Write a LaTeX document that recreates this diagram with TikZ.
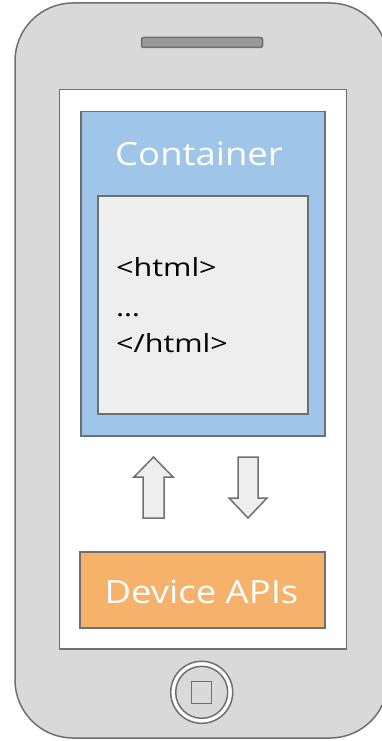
\documentclass[tikz,border=0pt]{standalone}
\usepackage{fontspec}
\setmainfont{Open Sans}
\newfontfamily\titlefont[FakeStretch=1.14]{Open Sans}
\newfontfamily\codefont[FakeStretch=1.22]{Open Sans}
\definecolor{phonefill}{HTML}{D9D9D9}
\definecolor{edge}{HTML}{6F6F6F}
\definecolor{speaker}{HTML}{999999}
\definecolor{contblue}{HTML}{9FC5E8}
\definecolor{pagegray}{HTML}{EEEEEE}
\definecolor{apiorange}{HTML}{F6B26B}
\begin{document}
\begin{tikzpicture}[x=1pt,y=-1pt,
  outline/.style={draw=edge,line width=1.5pt},
  boxtext/.style={text=white,font=\titlefont\fontsize{32}{32}\selectfont,anchor=base,inner sep=0pt},
  codetext/.style={text=black,font=\codefont\fontsize{25}{25}\selectfont,anchor=base west,inner sep=0pt},
  arrowshape/.style={draw=edge,fill=pagegray,line width=1.5pt,line join=miter}]
\useasboundingbox (0,0) rectangle (382,741);
% phone body
\draw[outline,fill=phonefill,rounded corners=58pt] (15,3) rectangle (388,738);
% speaker
\draw[outline,fill=speaker,rounded corners=2pt] (141.5,37.5) rectangle (262.5,47.5);
% screen
\node[outline,fill=white,minimum width=287pt,minimum height=559pt,inner sep=0pt,anchor=north west] (screen) at (58.5,89) {};
% container
\node[outline,fill=contblue,minimum width=244pt,minimum height=324pt,inner sep=0pt,anchor=north west] (container) at (80,111) {};
\node[boxtext] (ctitle) at (199,165.5) {Container};
% page
\node[outline,fill=pagegray,minimum width=210pt,minimum height=218pt,inner sep=0pt,anchor=north west] (page) at (97,195) {};
\node[codetext] (l1) at (116,276.5) {<html>};
\node[codetext] (l2) at (116,316) {…};
\node[codetext] (l3) at (116,352) {</html>};
% arrows
\draw[arrowshape] (153.5,457) -- (173,477) -- (164,477) -- (164,518) -- (143,518) -- (143,477) -- (134,477) -- cycle;
\draw[arrowshape] (238,457) -- (258,457) -- (258,498) -- (267,498) -- (248,518) -- (229,498) -- (238,498) -- cycle;
% device apis
\node[outline,fill=apiorange,minimum width=245pt,minimum height=76pt,inner sep=0pt,anchor=north west] (apis) at (79,551) {};
\node[boxtext] (atitle) at (201.5,603) {Device APIs};
% home button
\node[outline,fill=white,circle,minimum size=62pt,inner sep=0pt] (homeouter) at (201.7,692.3) {};
\node[outline,fill=phonefill,circle,minimum size=52pt,inner sep=0pt] (homeinner) at (homeouter.center) {};
\node[outline,fill=phonefill,minimum width=20pt,minimum height=22pt,inner sep=0pt] (homesquare) at (homeouter.center) {};
\end{tikzpicture}
\end{document}
